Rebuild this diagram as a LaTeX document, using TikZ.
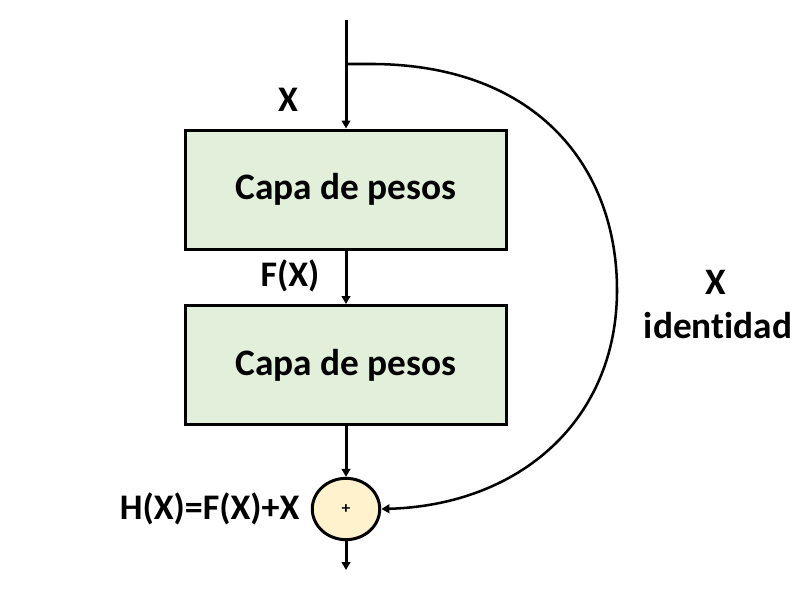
\documentclass[tikz,border=0pt]{standalone}
\usepackage{fontspec}
\setmainfont{Carlito}[Ligatures=NoCommon]
\usetikzlibrary{arrows.meta}
\definecolor{verdecapa}{HTML}{E2EFDA}
\definecolor{amarillosuma}{HTML}{FFF2CC}
\begin{document}
\begin{tikzpicture}[x=0.75pt,y=-0.75pt,
		capa/.style={draw,line width=2.25pt,fill=verdecapa,minimum width=240.75pt,minimum height=89.25pt,font=\fontsize{28}{32}\selectfont\bfseries},
		etiqueta/.style={font=\fontsize{27}{31}\selectfont\bfseries},
		flecha/.style={line width=2.25pt,-{Triangle[length=6pt,width=6.5pt]}}]
	\useasboundingbox (0,0) rectangle (810,601);

	\coordinate (entrada) at (346,20);
	\coordinate (rama) at (346,64);
	\coordinate (salida) at (346,570);
	\node[capa] (capa1) at (346,189.5) {Capa de pesos};
	\node[capa] (capa2) at (346,365) {Capa de pesos};
	\node[draw,line width=2.25pt,fill=amarillosuma,circle,minimum size=46pt,inner sep=0pt,font=\fontsize{12}{13}\selectfont\bfseries,xscale=1.1] (suma) at (346,509) {+};

	\node[etiqueta] (x) at (288,100) {X};
	\node[etiqueta] (fx) at (290,276) {F(X)};
	\node[etiqueta,anchor=east] (hx) at (304,509) {H(X)=F(X)+X};
	\node[etiqueta,font=\fontsize{28}{32}\selectfont\bfseries] (xid) at (716,282) {X};
	\node[etiqueta,font=\fontsize{28}{32}\selectfont\bfseries] (ident) at (718,326) {identidad};

	\draw[flecha] (entrada) -- (capa1.north);
	\draw[flecha] (capa1.south) -- (capa2.north);
	\draw[flecha] (capa2.south) -- (suma.north);
	\draw[flecha] (suma.south) -- (salida);
	\draw[line width=1.9pt,-{Triangle[length=6pt,width=6.5pt]}] (rama) -- (375,64)
		.. controls (540,66) and (617,170) .. (617,290)
		.. controls (617,420) and (520,505) .. (suma.east);
\end{tikzpicture}
\end{document}
